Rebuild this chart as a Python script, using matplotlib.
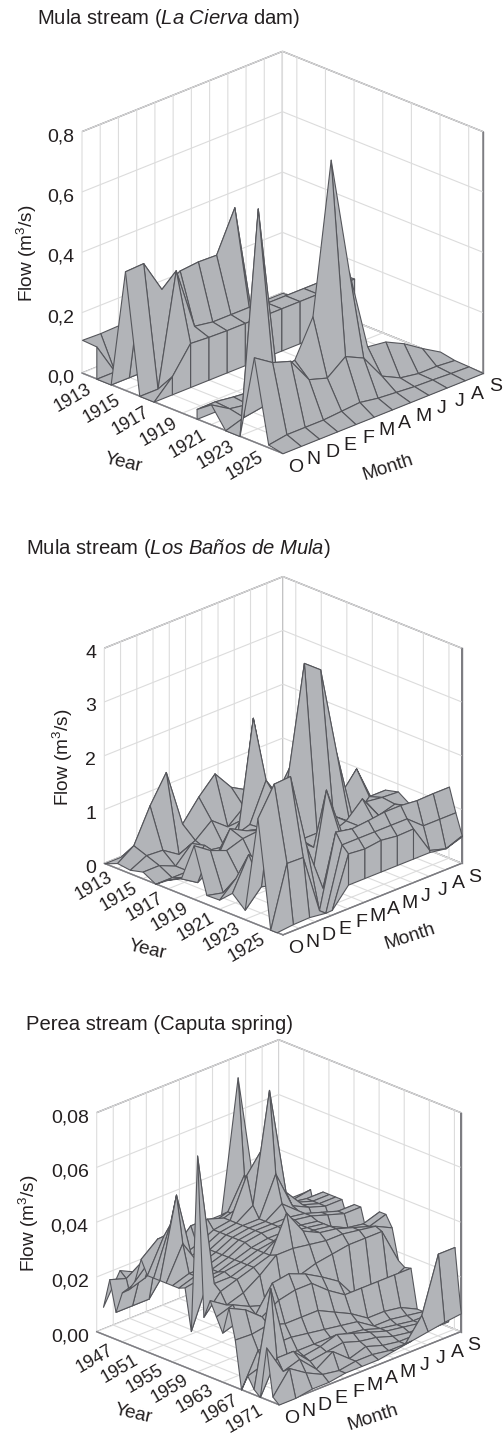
"""three 3D surfaces of monthly stream flow, drawn back to front like the original"""
import numpy as np
import matplotlib
matplotlib.use('Agg')
import matplotlib.pyplot as plt
from mpl_toolkits.mplot3d import proj3d
from mpl_toolkits.mplot3d.art3d import Poly3DCollection

plt.rcParams['font.family'] = ['Liberation Sans', 'DejaVu Sans']
plt.rcParams['mathtext.fontset'] = 'custom'
plt.rcParams['mathtext.rm'] = 'Liberation Sans'
plt.rcParams['mathtext.it'] = 'Liberation Sans:italic'
plt.rcParams['grid.color'] = '#dcdcdc'
plt.rcParams['grid.linewidth'] = 0.8

N = np.nan
months = ['O', 'N', 'D', 'E', 'F', 'M', 'A', 'M', 'J', 'J', 'A', 'S']

# %% La Cierva dam, repeated years are the vertical walls of the original
cierva_years = [1912, 1913, 1913, 1914, 1915, 1916, 1917, 1917, 1918, 1919, 1920, 1920, 1921, 1922, 1923, 1924, 1925, 1926]
cierva_flow = [
    [.110, .108, .110, .040, 0, 0, 0, 0, 0, 0, 0, 0],
    [.107, 0, 0, 0, 0, 0, 0, 0, 0, 0, 0, 0],
    [0, 0, 0, 0, 0, 0, 0, 0, 0, 0, 0, 0],
    [0, 0, 0, 0, 0, 0, 0, 0, 0, 0, 0, 0],
    [.394, .397, .287, .324, .330, .328, .461, .060, 0, 0, 0, 0],
    [0, 0, .368, .160, .150, .150, .150, .140, .140, .140, .140, .140],
    [0, .060, .146, .142, .140, .140, .140, .140, .140, .140, .140, .142],
    [0, 0, 0, 0, 0, 0, 0, 0, 0, 0, 0, 0],
    [N, N, N, N, N, N, N, N, N, N, N, N],
    [N, N, N, N, N, N, N, N, N, N, N, N],
    [0, 0, 0, 0, N, N, N, N, N, N, N, N],
    [.033, .034, .026, .020, N, N, N, N, N, N, N, N],
    [.067, .030, .020, .020, N, N, N, N, N, N, N, N],
    [0, .020, .030, .030, N, N, N, N, N, N, N, N],
    [0, .730, .170, .180, .300, .795, .400, .128, .120, .090, .050, .014],
    [.280, .240, .220, .135, .116, .163, .134, .050, .020, .010, .010, .005],
    [.010, .020, .020, .020, .025, .030, .020, .015, .010, .008, .005, .003],
    [0, 0, 0, 0, 0, 0, 0, 0, 0, 0, 0, 0],
]
cierva_ticks = [0, 0.2, 0.4, 0.6, 0.8]
cierva_ticklabels = ['0,0', '0,2', '0,4', '0,6', '0,8']

# %% Los Baños de Mula
banos_years = [1912, 1913, 1914, 1915, 1916, 1917, 1918, 1919, 1920, 1921, 1922, 1923, 1924, 1925, 1925.5, 1926, 1926]
banos_flow = [
    [0, 0, 0, 0, 0, 0, 0, 0, 0, 0, 0, 0],
    [.10, .31, .93, 1.43, .35, .73, 1.04, .67, .50, .20, 0, 0],
    [.07, .22, .20, 0, .14, .39, .15, .40, .30, .30, .20, .10],
    [.13, .13, 0, .30, .05, 0, .36, .40, .46, .40, .30, .30],
    [0, 0, 0, .36, 0, .20, 2.36, .68, .50, .50, .50, .40],
    [.17, .10, .05, .30, .50, .60, 1.30, .80, .90, .70, .50, .40],
    [.29, .10, .30, .86, .70, .62, 1.00, .90, .90, .80, .70, .60],
    [1.00, .79, .67, .77, .80, 1.30, 1.80, 2.00, 1.20, .85, 1.22, .50],
    [.17, .10, .30, .37, .80, 1.77, 3.76, 3.52, 1.84, .48, .80, .80],
    [.18, .46, .50, .60, .60, .70, .70, .90, .67, .92, .88, .86],
    [.40, 1.00, .70, .60, .90, .65, .78, .90, 1.19, .76, .85, .70],
    [.18, .50, .40, .65, .10, 1.81, .85, .90, .85, .90, .90, .60],
    [1.98, 2.50, 2.52, 1.10, .20, 1.13, 1.07, 1.10, .70, .90, .80, .70],
    [0, 1.12, 1.11, 0, 1.34, 1.28, 1.31, 1.35, 1.35, 1.32, 1.33, 1.33],
    [0, .03, .04, 0, 1.15, 1.15, 1.15, 1.15, 1.15, .90, .90, .90],
    [N, N, N, .10, 1.03, 1.00, 1.04, 1.00, 1.01, .49, .40, .52],
    [N, N, N, .10, .45, .45, .45, .45, .45, .45, .40, .50],
]
banos_ticks = [0, 1, 2, 3, 4]
banos_ticklabels = ['0', '1', '2', '3', '4']

# %% Caputa spring
caputa_years = list(range(1944, 1973))
caputa_flow = [
    [.010, .021, .018, .020, N, N, N, N, N, N, N, N],
    [.021, .019, .023, .016, N, N, N, N, N, N, N, N],
    [.010, .010, .010, .018, N, N, N, N, N, N, N, N],
    [.018, .020, .024, .027, .030, .032, .032, .0796, .036, .030, .028, .028],
    [.020, .022, .026, .028, .030, .032, .034, .045, .036, .031, .029, .030],
    [.024, .030, .030, .030, .033, .034, .034, .034, .034, .026, .022, .020],
    [.033, .038, .032, .038, .038, .036, .038, .046, .036, .032, .031, .031],
    [.028, .040, .030, .032, .035, .036, .050, .058, .036, .033, .031, .031],
    [.028, .045, .030, .032, .035, .036, .040, .0796, .040, .033, .031, .031],
    [.028, .0568, .030, .032, .035, .036, .036, .050, .036, .033, .031, .031],
    [.028, .040, .030, .032, .035, .036, .036, .040, .035, .028, .025, .024],
    [.028, .030, .030, .032, .035, .036, .036, .036, .035, .033, .031, .031],
    [.028, .030, .030, .032, .035, .036, .036, .036, .035, .033, .031, .031],
    [.029, .030, .030, .032, .034, .035, .035, .035, .034, .026, .023, .022],
    [.014, .030, .031, .032, .034, .035, .036, .035, .034, .026, .023, .022],
    [.079, .030, .030, .032, .034, .038, .035, .035, .034, .031, .030, .032],
    [.021, .028, .030, .032, .034, .047, .038, .035, .034, .032, .030, .032],
    [.028, .024, .026, .030, .035, .035, .034, .033, .033, .032, .031, .028],
    [.023, .025, .022, .020, .022, .026, .028, .029, .030, .030, .030, .017],
    [.018, .020, .020, .029, .030, .0275, .024, .020, .012, .012, .012, .0154],
    [.028, .025, .020, .0236, .025, .025, .020, .016, .016, .016, .016, .016],
    [.0173, .017, .018, .016, .016, .016, .013, .010, .006, .006, .005, .002],
    [0, .012, .012, .012, .011, .010, .009, .008, .004, .004, .003, .002],
    [.006, .008, .008, .008, .008, .008, .007, .006, .004, .003, .002, .002],
    [.002, .0365, .010, .007, .008, .010, .008, .006, .004, .003, .002, .002],
    [0, .012, .012, .006, .007, .008, .006, .005, .003, .002, .002, .002],
    [.019, .008, .010, .004, .008, .003, .005, .003, .002, .002, .002, .002],
    [.002, .010, .006, .003, .002, .003, .003, .002, .002, .010, .030, .030],
    [0, 0, .001, .001, .002, .002, .002, .003, .004, .005, .006, .0067],
]
caputa_ticks = [0, 0.02, 0.04, 0.06, 0.08]
caputa_ticklabels = ['0,00', '0,02', '0,04', '0,06', '0,08']

W, H = 503, 1439
TEXT = '#231f20'
fig = plt.figure(figsize=(W / 100, H / 100), dpi=100)


def place(ax, left, right, floor):
    '''move the square axes so the box corners land on these pixels'''
    xl, yl, _ = proj3d.proj_transform(ax.get_xlim()[0], ax.get_ylim()[0], ax.get_zlim()[0], ax.get_proj())
    xr, _, _ = proj3d.proj_transform(ax.get_xlim()[1], ax.get_ylim()[1], ax.get_zlim()[0], ax.get_proj())
    vl = ax.viewLim
    side = (right - left) * vl.width / (xr - xl)
    x0 = left - (xl - vl.x0) / vl.width * side
    y0 = (H - floor) - (yl - vl.y0) / vl.height * side
    ax.set_position([x0 / W, y0 / H, side / W, side / H])


def tick_text(ax, x, y, z, txt, off, size=14, **kw):
    '''Text3D ignores rotation, so project the point and annotate it with a pixel offset'''
    px, py, _ = proj3d.proj_transform(x, y, z, ax.get_proj())
    ax.annotate(txt, (px, py), xycoords='data', xytext=off, textcoords='offset pixels', annotation_clip=False,
                fontsize=size, color=TEXT, zorder=5000, **kw)


def panel(years, flow, xlim, year_ticks, zticks, zlabels, corners, year_off):
    ax = fig.add_axes([0, 0, 1, 1], projection='3d', proj_type='ortho', computed_zorder=False)
    ax.set_facecolor('none')
    ax.view_init(elev=23.6, azim=-45)
    ax.set_box_aspect((1, 1, 0.929))
    ax.set_xlim(*xlim)
    ax.set_ylim(0, 11)
    ax.set_zlim(zticks[0], zticks[-1])
    ax.set_xticks(year_ticks)
    ax.set_yticks(range(12))
    ax.set_zticks(zticks)
    for axis in (ax.xaxis, ax.yaxis, ax.zaxis):
        axis.set_pane_color((1, 1, 1, 1))
        axis.pane.set_edgecolor('#7d7d82')
        axis.pane.set_linewidth(1.0)
        axis.line.set_color('#7d7d82')
        axis.line.set_linewidth(1.0)
        axis._axinfo['tick']['inward_factor'] = 0
        axis._axinfo['tick']['outward_factor'] = 0
        for tick in axis.get_major_ticks():
            tick.label1.set_visible(False)
            tick.label2.set_visible(False)

    # painter's order: far rows first and in every row the far months first
    flow = np.array(flow, dtype=float)
    order = 10
    for i in range(len(years) - 1):
        for j in range(10, -1, -1):
            z = [flow[i, j], flow[i + 1, j], flow[i + 1, j + 1], flow[i, j + 1]]
            if np.isnan(z).any():
                continue
            quad = [(years[i], j, z[0]), (years[i + 1], j, z[1]), (years[i + 1], j + 1, z[2]), (years[i], j + 1, z[3])]
            poly = Poly3DCollection([quad], facecolor='#b2b4b8', edgecolor='#55565b', linewidth=0.8, zorder=order)
            ax.add_collection3d(poly, autolim=False)
            order += 1

    for y in year_ticks:
        tick_text(ax, y, 0, zticks[0], str(y), year_off, size=13, rotation=30, ha='right', va='center', rotation_mode='anchor')
    for j, m in enumerate(months):
        tick_text(ax, xlim[1], j, zticks[0], m, (13, -14), ha='center', va='center')
    for z, lab in zip(zticks, zlabels):
        tick_text(ax, xlim[0], 0, z, lab, (-8, -5), ha='right', va='center')
    place(ax, *corners)
    return ax


def label(x, y, txt, size=13.7, rot=0, ha='center'):
    fig.text(x / W, 1 - y / H, txt, fontsize=size, rotation=rot, ha=ha, va='center', color=TEXT)


panel(cierva_years, cierva_flow, (1912, 1926), list(range(1913, 1926, 2)), cierva_ticks, cierva_ticklabels, (82, 483, 373), (-6, -9))
panel(banos_years, banos_flow, (1912, 1926), list(range(1913, 1926, 2)), banos_ticks, banos_ticklabels, (104.3, 461.7, 863.3), (-6, -8))
panel(caputa_years, caputa_flow, (1943, 1972), list(range(1947, 1972, 4)), caputa_ticks, caputa_ticklabels, (96.7, 460.7, 1331.7), (-10, -7))

label(37, 19, r'Mula stream ($\mathit{La\ Cierva}$ dam)', size=14.6, ha='left')
label(26, 549, r'Mula stream ($\mathit{Los\ Baños\ de\ Mula)}$', size=14.6, ha='left')
label(26, 1024, 'Perea stream (Caputa spring)', size=14.6, ha='left')
label(27, 253, 'Flow (m$^3$/s)', rot=90)
label(63, 757, 'Flow (m$^3$/s)', rot=90)
label(29, 1223, 'Flow (m$^3$/s)', rot=90)
label(123, 463, 'Year', rot=-13)
label(388, 468, 'Month', rot=18)
label(147, 950, 'Year', rot=-13)
label(410, 937, 'Month', rot=18)
label(133, 1414, 'Year', rot=-13)
label(373, 1418, 'Month', rot=18)

fig.savefig('out.png', dpi=100)
